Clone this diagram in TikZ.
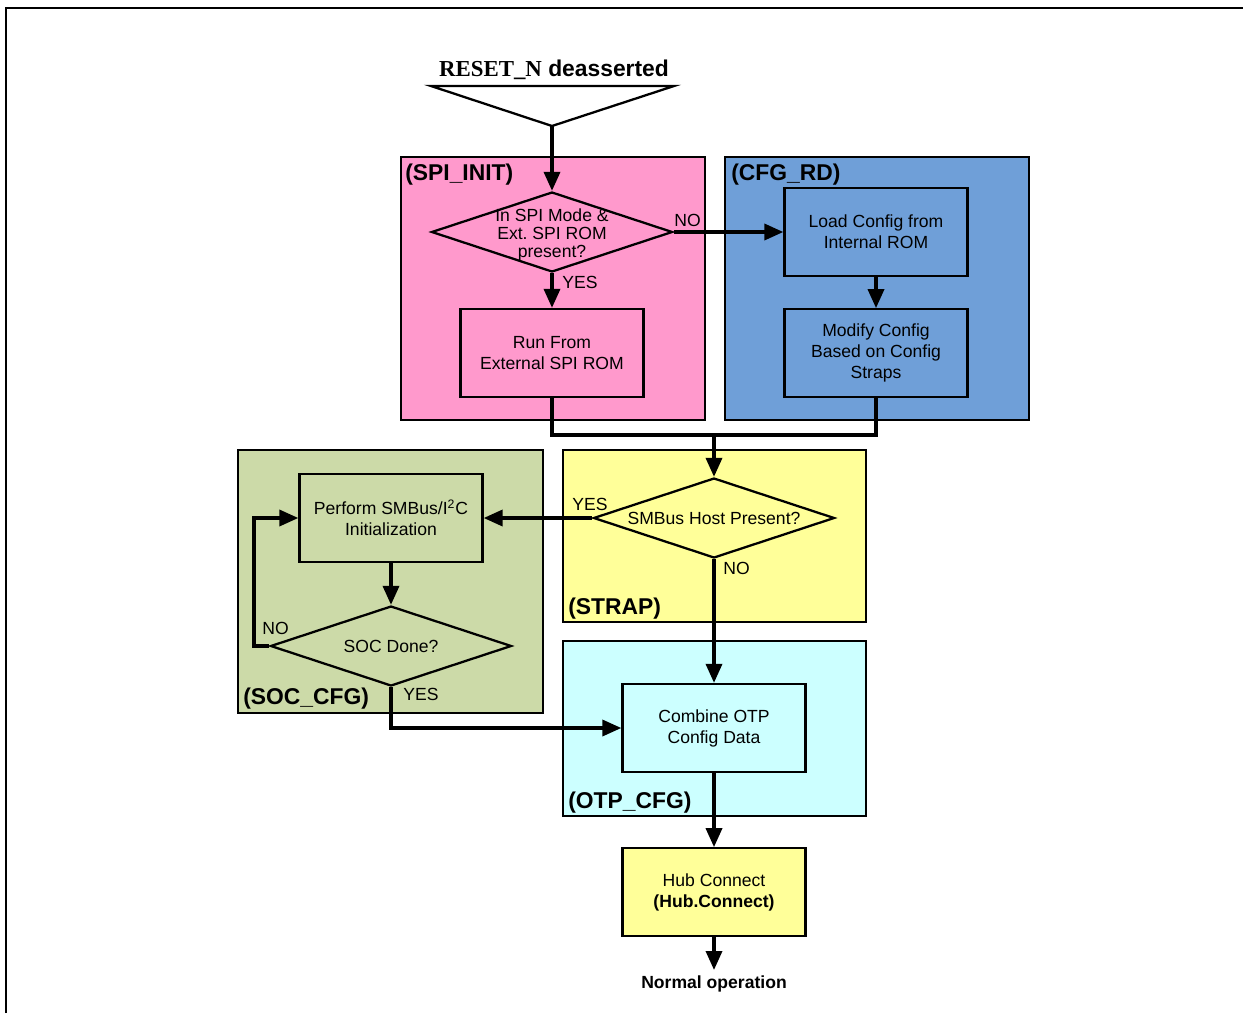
\documentclass[tikz,border=0pt]{standalone}
\usepackage{fontspec}
\setmainfont{Liberation Sans}
\newfontfamily\resetfont{Liberation Serif}
\usetikzlibrary{arrows.meta,shapes.geometric,positioning}
\definecolor{spipink}{HTML}{FF99CC}
\definecolor{cfgblue}{HTML}{6F9FD8}
\definecolor{socgreen}{HTML}{CCDAA8}
\definecolor{strapyellow}{HTML}{FFFF99}
\definecolor{otpcyan}{HTML}{CCFFFF}
\tikzset{%
  >={Triangle[width=3.2mm,length=3.8mm]},
  % Specifications for style of nodes:
          base/.style = {rectangle, draw=black, line width=1.3pt,
                         minimum width=3.66cm, minimum height=1.76cm,
                         align=center, font=\fontsize{10}{11.9}\selectfont},
          pink/.style = {base, fill=spipink},
          blue/.style = {base, fill=cfgblue},
         green/.style = {base, fill=socgreen},
          cyan/.style = {base, fill=otpcyan},
        yellow/.style = {base, fill=strapyellow},
      decision/.style = {diamond, draw=black, line width=1.3pt, inner sep=0pt,
                         minimum width=4.82cm, minimum height=1.6cm},
        dlabel/.style = {align=center, font=\fontsize{10}{10.2}\selectfont},
         group/.style = {draw=black, line width=1.3pt},
      grouplbl/.style = {anchor=base west, inner sep=0pt,
                         font=\fontsize{13}{14}\selectfont\bfseries},
         yesno/.style = {anchor=base west, inner sep=0pt,
                         font=\fontsize{10}{12}\selectfont},
          flow/.style = {->, line width=2pt},
          conn/.style = {line width=2pt}
}
\begin{document}
\begin{tikzpicture}[x=0.2mm, y=-0.2mm]
  \useasboundingbox (0,0) rectangle (1243,1013);
  % frame
  \draw[line width=1.2pt] (6,1013) -- (6,8) -- (1243,8);

  % group areas
  \draw[group, fill=spipink]     (401,157) rectangle (705,420);
  \draw[group, fill=cfgblue]     (725,157) rectangle (1029,420);
  \draw[group, fill=socgreen]    (238,450) rectangle (543,713);
  \draw[group, fill=strapyellow] (563,450) rectangle (866,622);
  \draw[group, fill=otpcyan]     (563,641) rectangle (866,816);

  \node (spilbl)   [grouplbl] at (405,180) {(SPI\_INIT)};
  \node (cfglbl)   [grouplbl] at (731,180) {(CFG\_RD)};
  \node (straplbl) [grouplbl] at (568,614) {(STRAP)};
  \node (soclbl)   [grouplbl] at (243,704) {(SOC\_CFG)};
  \node (otplbl)   [grouplbl] at (568,808) {(OTP\_CFG)};

  % start
  \node (reset) [font=\fontsize{13}{14}\selectfont\bfseries] at (554,70)
        {{\resetfont RESET\_N} deasserted};
  \coordinate (resetapex) at (552,126);
  \draw[line width=1.3pt] (431,86) -- (674,86) -- (resetapex) -- cycle;

  % Specification of nodes (position, etc.)
  \node (spimode) [decision, fill=spipink,
        label={[dlabel, yshift=-0.6mm]center:In SPI Mode \&\\Ext.\ SPI ROM\\present?}] at (552,232) {};
  \node (run)     [pink] at (552,353)  {Run From\\External SPI ROM};
  \node (load)    [blue] at (876,232)  {Load Config from\\Internal ROM};
  \node (modify)  [blue, below=6.2mm of load] {Modify Config\\Based on Config\\Straps};

  \node (smbus)   [decision, fill=strapyellow,
        label={[dlabel]center:SMBus Host Present?}] at (714,518) {};
  \node (perform) [green] at (391,518) {Perform SMBus/I\textsuperscript{2}C\\Initialization};
  \node (socdone) [decision, fill=socgreen,
        label={[dlabel]center:SOC Done?}] at (391,646) {};
  \node (combine) [cyan] at (714,728) {Combine OTP\\Config Data};
  \node (hub)     [yellow, below=14.8mm of combine] {Hub Connect\\\textbf{(Hub.Connect)}};
  \node (normalop) [anchor=north, inner sep=3pt, font=\fontsize{10}{12}\selectfont\bfseries]
        at (714,970) {Normal operation};

  \coordinate (merge)    at (714,435);
  \coordinate (loopback) at (254,646);

  \draw[flow] (resetapex) -- (spimode.north);
  \draw[flow] (spimode.east) -- (load.west);
  \draw[flow] (spimode.south) -- (run.north);
  \draw[flow] (load.south) -- (modify.north);
  \draw[conn] (run.south) |- (merge) -| (modify.south);
  \draw[flow] (merge) -- (smbus.north);
  \draw[flow] (smbus.west) -- (perform.east);
  \draw[flow] (smbus.south) -- (combine.north);
  \draw[flow] (perform.south) -- (socdone.north);
  \draw[flow] (socdone.west) -- (loopback) |- (perform.west);
  \draw[flow] (socdone.south) |- (combine.west);
  \draw[flow] (combine.south) -- (hub.north);
  \draw[flow] (hub.south) -- (normalop.north);

  \node (spino)   [yesno] at (674,226) {NO};
  \node (spiyes)  [yesno] at (562,288) {YES};
  \node (smbyes)  [yesno] at (572,510) {YES};
  \node (smbno)   [yesno] at (723,574) {NO};
  \node (socno)   [yesno] at (262,634) {NO};
  \node (socyes)  [yesno] at (403,700) {YES};
\end{tikzpicture}
\end{document}
